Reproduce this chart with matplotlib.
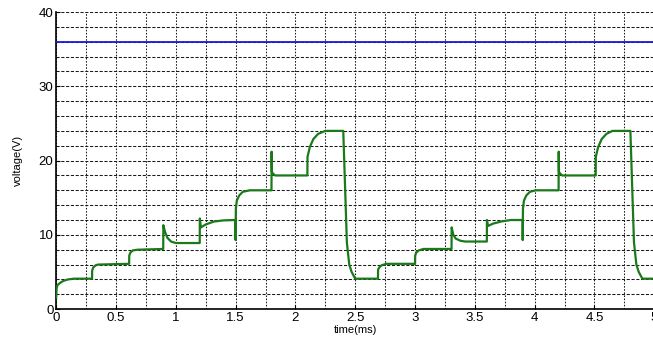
import numpy as np
import matplotlib.pyplot as plt
from matplotlib.ticker import MultipleLocator

plt.rcParams['font.family'] = ['Liberation Sans', 'DejaVu Sans']

# Output voltage waveform
t_out = [0, 0.004, 0.01, 0.03, 0.06, 0.1, 0.15, 0.3,
         0.301, 0.31, 0.33, 0.35, 0.61,
         0.611, 0.62, 0.64, 0.68, 0.895,
         0.896, 0.91, 0.93, 0.96, 1.0, 1.2,
         1.201, 1.21, 1.25, 1.32, 1.4, 1.499,
         1.5, 1.502, 1.51, 1.53, 1.56, 1.62, 1.8,
         1.801, 1.803, 1.81, 1.83, 2.1,
         2.101, 2.12, 2.15, 2.19, 2.25, 2.4,
         2.41, 2.43, 2.45, 2.47, 2.5, 2.69,
         2.691, 2.7, 2.72, 2.76, 3.0,
         3.001, 3.01, 3.03, 3.07, 3.305,
         3.306, 3.32, 3.34, 3.38, 3.42, 3.6,
         3.601, 3.61, 3.65, 3.72, 3.8, 3.899,
         3.9, 3.902, 3.91, 3.93, 3.96, 4.01, 4.2,
         4.201, 4.203, 4.21, 4.23, 4.51,
         4.511, 4.53, 4.56, 4.6, 4.65, 4.8,
         4.81, 4.83, 4.85, 4.87, 4.9, 5.0]
v_out = [1.5, 2.8, 3.2, 3.5, 3.8, 4.0, 4.1, 4.1,
         5.2, 5.6, 5.9, 6.0, 6.1,
         7.2, 7.6, 7.9, 8.0, 8.1,
         11.3, 10.4, 9.6, 9.1, 8.9, 8.9,
         12.2, 11.0, 11.4, 11.8, 11.95, 12.0,
         9.3, 13.5, 14.6, 15.3, 15.8, 16.0, 16.0,
         21.2, 18.5, 18.3, 18.0, 18.0,
         20.5, 21.8, 22.9, 23.6, 24.0, 24.0,
         19.0, 9.0, 6.0, 5.0, 4.1, 4.1,
         5.3, 5.6, 5.9, 6.1, 6.1,
         7.2, 7.6, 7.9, 8.1, 8.1,
         11.0, 10.0, 9.5, 9.2, 9.1, 9.1,
         12.0, 11.2, 11.5, 11.8, 12.0, 12.0,
         9.3, 13.5, 14.6, 15.3, 15.8, 16.0, 16.0,
         21.2, 18.5, 18.3, 18.0, 18.0,
         20.5, 21.8, 22.9, 23.6, 24.0, 24.0,
         19.0, 9.0, 6.0, 5.0, 4.1, 4.1]

# Input voltage
t_in = [0, 5]
v_in = [36, 36]

fig = plt.figure(figsize=(6.53, 3.45), dpi=100)
ax = fig.add_axes([0.086, 0.104, 0.916, 0.861])

ax.plot(t_in, v_in, color='#1a1ad8', lw=1.3, zorder=3)
ax.plot(t_out, v_out, color='#1a7a1a', lw=1.6, zorder=3)

ax.set_xlim(0, 5)
ax.set_ylim(0, 40)
ax.xaxis.set_major_locator(MultipleLocator(0.5))
ax.xaxis.set_minor_locator(MultipleLocator(0.25))
ax.yaxis.set_major_locator(MultipleLocator(10))
ax.yaxis.set_minor_locator(MultipleLocator(2))
ax.xaxis.set_major_formatter(plt.FuncFormatter(lambda x, p: '%g' % x))

# matlab style grid: dotted verticals, dashed horizontals
ax.grid(True, axis='x', which='both', color='#1a1a1a', linestyle=(0, (1.5, 1.5)), lw=0.75)
ax.grid(True, axis='y', which='both', color='#1a1a1a', linestyle=(0, (3, 1.6)), lw=0.75)
ax.spines['top'].set_visible(False)
ax.spines['right'].set_visible(False)
ax.spines['left'].set_linewidth(1.2)
ax.spines['bottom'].set_linewidth(1.2)
ax.tick_params(which='both', direction='in', labelsize=9.5, length=3, pad=2)
ax.tick_params(which='minor', length=0)

ax.set_xlabel('time(ms)', fontsize=8, labelpad=1)
ax.set_ylabel('voltage(V)', fontsize=8, labelpad=11)

fig.savefig('out.png', dpi=100)
